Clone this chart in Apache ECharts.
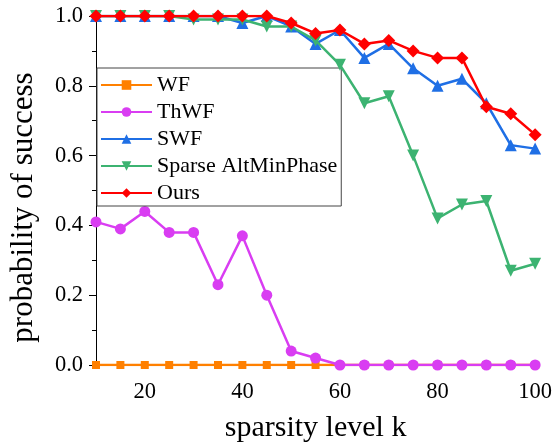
<!DOCTYPE html>
<html>
<head>
<meta charset="utf-8">
<script src="https://cdn.jsdelivr.net/npm/echarts@6/dist/echarts.min.js"></script>
<style>
html,body{margin:0;padding:0;background:#fff;}
#chart{width:555px;height:448px;}
</style>
</head>
<body>
<div id="chart"></div>
<script>
const kValues = [10,15,20,25,30,35,40,45,50,55,60,65,70,75,80,85,90,95,100];
const wf     = [0,0,0,0,0,0,0,0,0,0,0,0,0,0,0,0,0,0,0];
const thwf   = [0.41,0.39,0.44,0.38,0.38,0.23,0.37,0.20,0.04,0.02,0,0,0,0,0,0,0,0,0];
const swf    = [1,1,1,1,1,1,0.98,1,0.97,0.92,0.96,0.88,0.92,0.85,0.80,0.82,0.75,0.63,0.62];
const altMin = [1,1,1,1,0.99,0.99,0.99,0.97,0.97,0.93,0.86,0.75,0.77,0.60,0.42,0.46,0.47,0.27,0.29];
const ours   = [1,1,1,1,1,1,1,1,0.98,0.95,0.96,0.92,0.93,0.90,0.88,0.88,0.74,0.72,0.66];
const seriesNames = ['WF','ThWF','SWF','Sparse AltMinPhase','Ours'];
const xTickValues = [10,20,30,40,50,60,70,80,90,100];
const xLabelValues = [20,40,60,80,100];

const font = "'Liberation Serif','Times New Roman',serif";
function pair(arr){ return arr.map((v,i)=>[kValues[i], v]); }

const styles = [
  {color:'#FF8000', symbol:'rect', size:8, rotate:0},
  {color:'#D93DF2', symbol:'circle', size:11, rotate:0},
  {color:'#1F6FE5', symbol:'triangle', size:12, rotate:0},
  {color:'#3CB371', symbol:'triangle', size:12, rotate:180},
  {color:'#FF0000', symbol:'diamond', size:13, rotate:0}
];
const datasets = [wf, thwf, swf, altMin, ours];

const chart = echarts.init(document.getElementById('chart'));
chart.setOption({
  animation:false,
  backgroundColor:'#fff',
  textStyle:{fontFamily:font},
  grid:{left:95, right:17, top:16, bottom:77, containLabel:false},
  legend:{
    left:97, top:68,
    orient:'vertical',
    data:seriesNames,
    itemWidth:51, itemHeight:12, itemGap:5,
    padding:[6,4,2,3],
    borderColor:'#444', borderWidth:1, borderRadius:0,
    backgroundColor:'#fff',
    lineStyle:{width:2},
    textStyle:{fontFamily:font, fontSize:22, color:'#000', lineHeight:22}
  },
  xAxis:{
    type:'value', min:10, max:100,
    name:'sparsity level k', nameLocation:'middle', nameGap:48,
    nameTextStyle:{fontFamily:font, fontSize:30, color:'#000'},
    axisLine:{show:true, onZero:false, lineStyle:{color:'#000', width:1}},
    axisTick:{show:true, inside:false, length:4, customValues:xTickValues, lineStyle:{color:'#000'}},
    axisLabel:{show:true, customValues:xLabelValues, margin:16, fontFamily:font, fontSize:22.5, color:'#000'},
    splitLine:{show:false}
  },
  yAxis:{
    type:'value', min:0, max:1, interval:0.2,
    name:'probability of success', nameLocation:'middle', nameGap:57,
    nameTextStyle:{fontFamily:font, fontSize:31, color:'#000', padding:[0,34,0,0]},
    axisLine:{show:true, onZero:false, lineStyle:{color:'#000', width:1}},
    axisTick:{show:true, inside:false, length:7, lineStyle:{color:'#000'}},
    minorTick:{show:true, splitNumber:2, length:4, lineStyle:{color:'#000'}},
    axisLabel:{show:true, margin:13, fontFamily:font, fontSize:22.5, color:'#000',
      formatter:function(v){ return v.toFixed(1); }},
    splitLine:{show:false}
  },
  series: datasets.map((d,i)=>({
    name:seriesNames[i],
    type:'line',
    data:pair(d),
    symbol:styles[i].symbol,
    symbolSize:styles[i].size,
    symbolRotate:styles[i].rotate,
    showAllSymbol:true,
    clip:true,
    lineStyle:{color:styles[i].color, width:2.5},
    itemStyle:{color:styles[i].color},
    z:2+i
  }))
});
</script>
</body>
</html>
